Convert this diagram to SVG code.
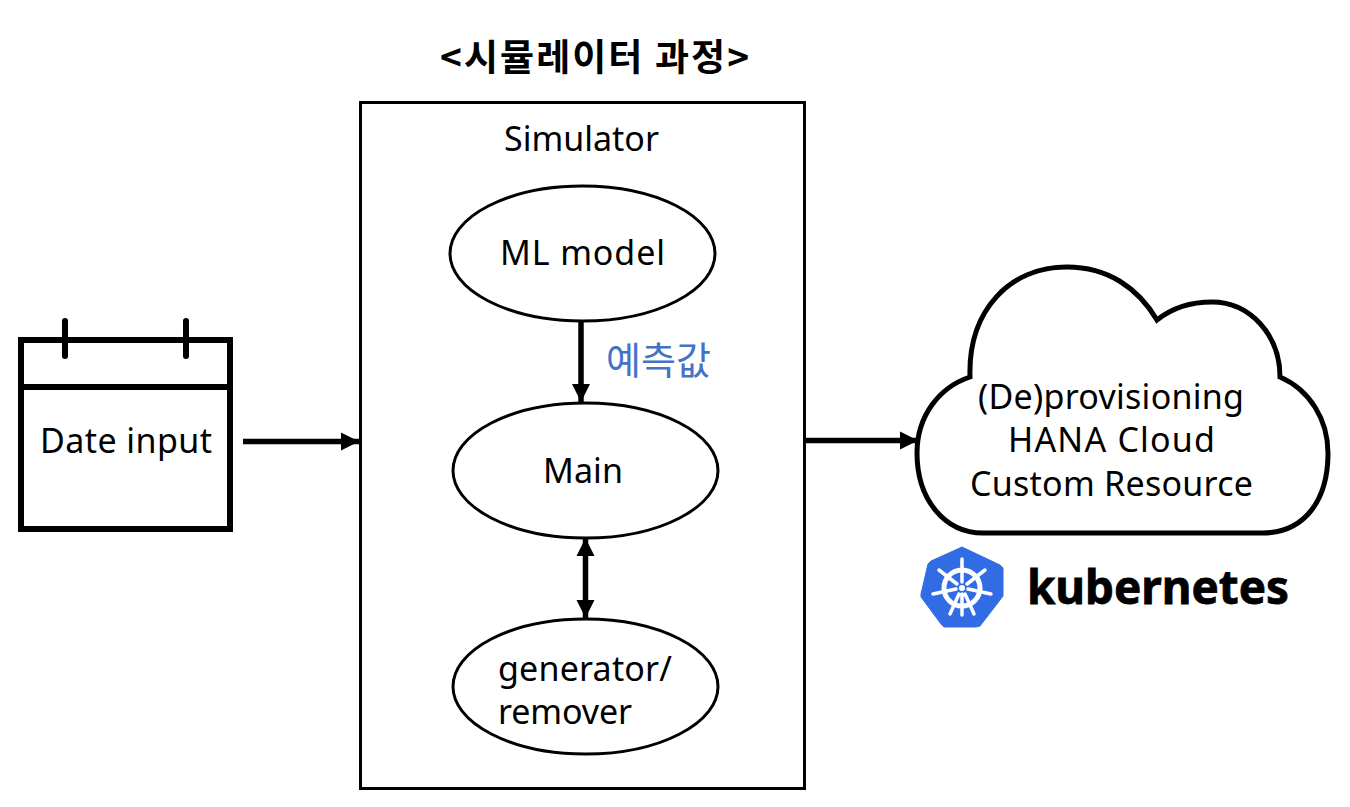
<svg xmlns="http://www.w3.org/2000/svg" width="1350" height="807" viewBox="0 0 1350 807">
<defs>
<marker id="ah" markerUnits="userSpaceOnUse" markerWidth="19" markerHeight="20" refX="18" refY="10" orient="auto-start-reverse"><path d="M0 1L18 10L0 19Z" fill="#000"/></marker>
</defs>
<style>
text{font-family:"Noto Sans CJK KR","Noto Sans",sans-serif;fill:#000}
.t{font-family:"Noto Sans","Noto Sans CJK KR",sans-serif;font-size:34px;text-anchor:start}
.s{fill:#fff;stroke:#000;stroke-width:3}
.c{fill:none;stroke:#000;stroke-width:5.500;marker-end:url(#ah)}
</style>
<rect width="1350" height="807" fill="#fff"/>
<text id="title" x="440" y="71" font-size="37" font-weight="700" textLength="309">&lt;시뮬레이터 과정&gt;</text>
<g id="calendar">
<rect x="21" y="340" width="209" height="189" fill="#fff" stroke="#000" stroke-width="6"/>
<path d="M21 387H230" stroke="#000" stroke-width="6" fill="none"/>
<path d="M65 321V356M186 321V356" stroke="#000" stroke-width="6" stroke-linecap="round" fill="none"/>
<text class="t" x="40" y="453" textLength="172">Date input</text>
</g>
<g id="simulator">
<rect class="s" x="360.500" y="102.500" width="444" height="686"/>
<text class="t" x="504" y="151">Simulator</text>
</g>
<g id="ml-model">
<ellipse class="s" cx="582.500" cy="253.500" rx="132.500" ry="67.500"/>
<text class="t" x="500" y="265" textLength="165">ML model</text>
</g>
<g id="main">
<ellipse class="s" cx="585.500" cy="470.500" rx="132.500" ry="67.500"/>
<text class="t" x="543" y="483" textLength="80">Main</text>
</g>
<g id="generator">
<ellipse class="s" cx="585.500" cy="686.500" rx="132.500" ry="67.500"/>
<text class="t" x="498" y="681" textLength="174">generator/</text>
<text class="t" x="498" y="724" textLength="134">remover</text>
</g>
<g id="cloud">
<path d="M970 377C968 310 1010 267 1067 267C1108 267 1138 288 1157 320C1172 308 1190 302 1212 302C1250 302 1280 335 1280 377C1310 390 1328 420 1328 453C1328 500 1305 533 1262 533H983C945 533 917 500 917 453C917 415 940 387 970 377Z" fill="#fff" stroke="#000" stroke-width="5"/>
<text class="t" x="978" y="409" textLength="266">(De)provisioning</text>
<text class="t" x="1008" y="452" textLength="207">HANA Cloud</text>
<text class="t" x="970" y="496" textLength="283">Custom Resource</text>
</g>
<g id="kubernetes">
<path d="M962 547L1000 565L1003 568L1003 596L1000 600L980 626L976 627L944 627L941 624L921 597L921 594L928 564L931 561Z" fill="#326ce5" stroke="#326ce5" stroke-width="1" stroke-linejoin="round"/>
<g fill="none" stroke="#fff" stroke-linecap="round">
<circle cx="962" cy="588" r="18" stroke-width="5"/>
<path d="M962 559V582M962 594V615M939 570L957 584M985 570L967 584M933 594L956 589M991 594L968 589M950 614L959 594M974 614L965 594" stroke-width="3.500"/>
</g>
<circle cx="962" cy="588" r="3" fill="#fff"/>
<text x="1027" y="604" font-size="46" font-weight="700" textLength="262" lengthAdjust="spacingAndGlyphs" stroke="#000" stroke-width="0.800" style="font-family:'Noto Sans',sans-serif">kubernetes</text>
</g>
<g id="connectors">
<path class="c" d="M243 441.500H359"/>
<path class="c" d="M805 440.500H918"/>
<path class="c" d="M581 322V402"/>
<path class="c" d="M585.500 538V618" style="marker-start:url(#ah)"/>
</g>
<text id="label" x="606" y="374" font-size="38" textLength="105" style="fill:#4472c4">예측값</text>
</svg>
